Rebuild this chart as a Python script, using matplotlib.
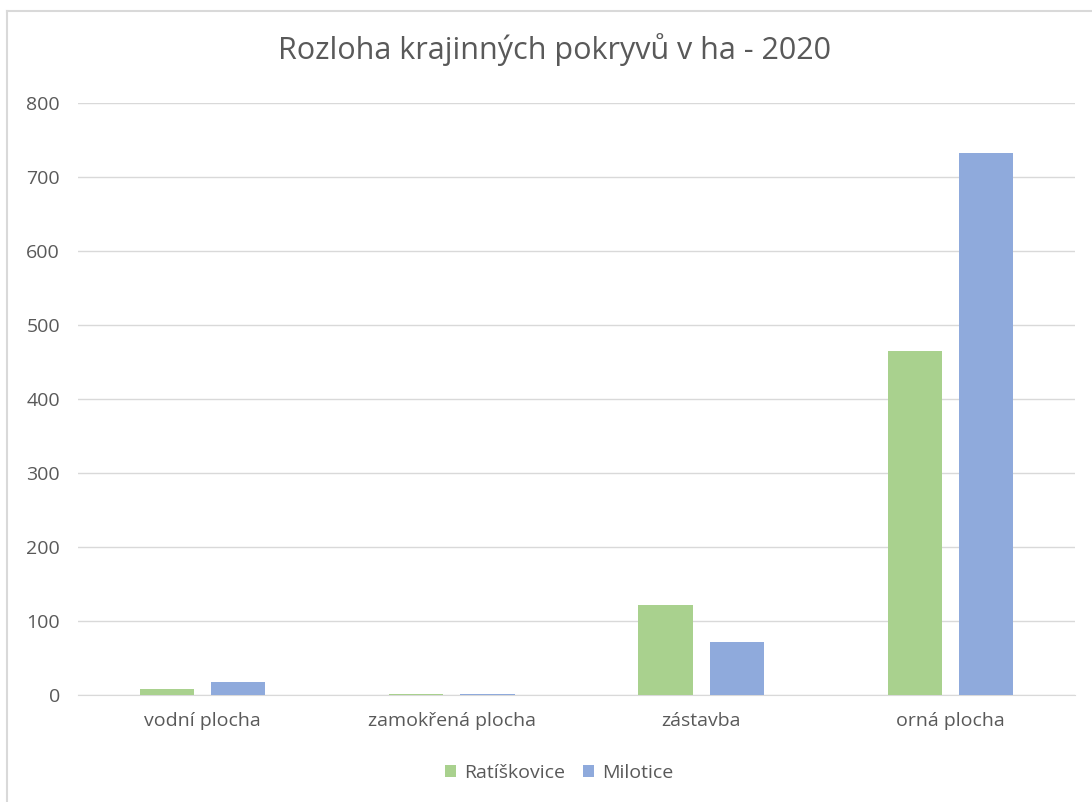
import numpy as np
import matplotlib.pyplot as plt
from matplotlib.lines import Line2D

categories = ["vodní plocha", "zamokřená plocha", "zástavba", "orná plocha"]
ratiskovice = [8, 1, 122, 465]
milotice = [18, 2, 72, 732]
yticks = [0, 100, 200, 300, 400, 500, 600, 700, 800]

plt.rcParams["font.family"] = ["Open Sans", "DejaVu Sans"]
text_color = "#595959"

fig = plt.figure(figsize=(10.92, 8.02), dpi=100)
ax = fig.add_axes([78 / 1092, 1 - 695 / 802, (1075 - 78) / 1092, (695 - 103) / 802])

x = np.arange(len(categories))
w = 0.217
ax.bar(x - 0.143, ratiskovice, w, color="#A9D18E", label="Ratíškovice", zorder=3)
ax.bar(x + 0.143, milotice, w, color="#8FAADC", label="Milotice", zorder=3)

ax.set_xlim(-0.5, len(categories) - 0.5)
ax.set_ylim(0, 800)
ax.set_yticks(yticks)
ax.set_xticks(x)
ax.set_xticklabels(categories)
ax.grid(axis="y", color="#D9D9D9", linewidth=1, zorder=0)
for s in ["top", "right", "left"]:
    ax.spines[s].set_visible(False)
ax.spines["bottom"].set_color("#D9D9D9")
ax.tick_params(axis="both", length=0, labelsize=14, colors=text_color)
ax.tick_params(axis="x", pad=12)
ax.tick_params(axis="y", pad=13)

fig.text(0.508, 1 - 50 / 802, "Rozloha krajinných pokryvů v ha - 2020",
         ha="center", va="center", fontsize=22, color=text_color)

fig.legend(loc="center", bbox_to_anchor=(0.512, 1 - 773 / 802), ncol=2,
           frameon=False, fontsize=14, labelcolor=text_color,
           handlelength=0.6, handleheight=0.6, handletextpad=0.4, columnspacing=0.9)

fig.add_artist(Line2D([7 / 1092, 7 / 1092], [0, 1 - 11 / 802], transform=fig.transFigure,
                      color="#D9D9D9", linewidth=1.5))
fig.add_artist(Line2D([7 / 1092, 1], [1 - 11 / 802, 1 - 11 / 802], transform=fig.transFigure,
                      color="#D9D9D9", linewidth=1.5))

fig.savefig("out.png", dpi=100)
